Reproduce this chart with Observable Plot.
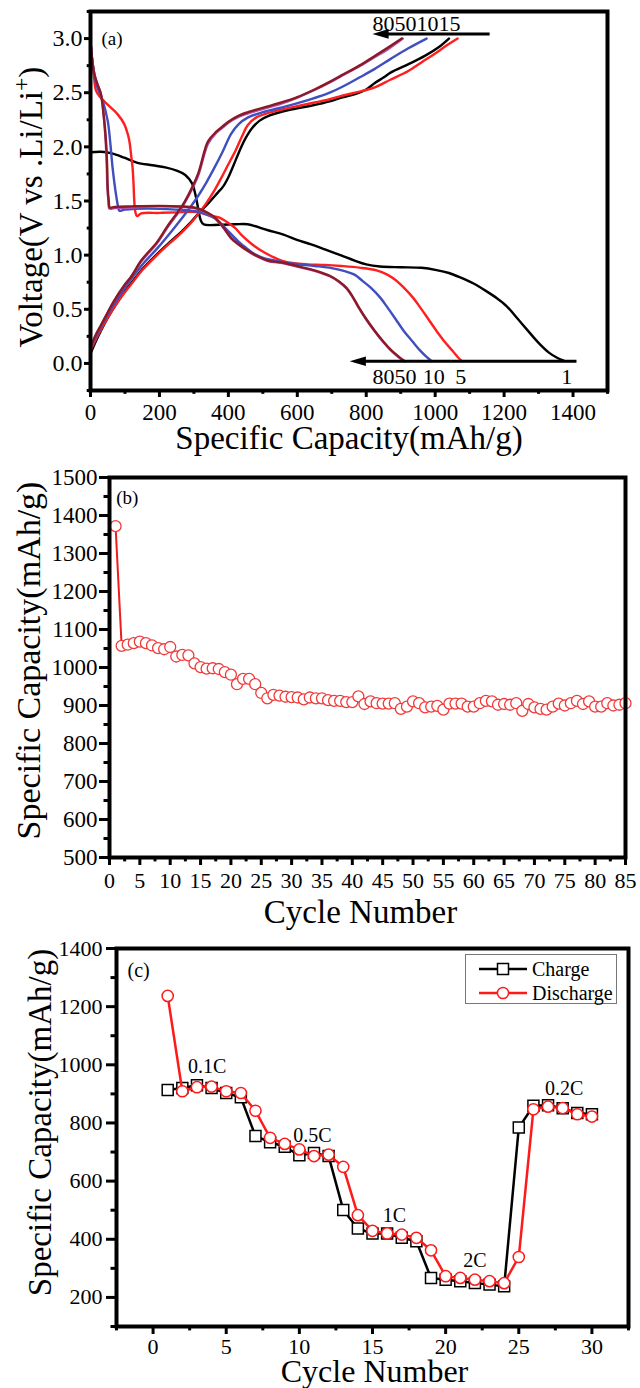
<!DOCTYPE html>
<html><head><meta charset="utf-8">
<script src="https://cdn.jsdelivr.net/npm/d3@7"></script>
<script src="https://cdn.jsdelivr.net/npm/@observablehq/plot@0.6"></script>
<style>
body{margin:0;background:#fff;}
#wrap{position:relative;width:640px;height:1388px;font-family:"Liberation Serif","Times New Roman",serif;color:#000;}
#wrap svg{display:block;}
.legend{position:absolute;left:465px;top:954px;width:152px;height:50px;border:1.3px solid #777;background:#fff;font-size:20px;line-height:24px;padding-top:2px;box-sizing:border-box;}
.legend div{display:flex;align-items:center;height:24px;}
.legend svg{margin-left:13px;margin-right:5px;}
</style></head><body><div id="wrap"></div>
<script>
const FONT = "'Liberation Serif', 'Times New Roman', serif";

// ---------- Panel (a): voltage profiles [capacity mAh/g, voltage V] ----------
const cyc1Discharge = [[0,1.95],[30,1.955],[62,1.94],[98,1.90],[134,1.855],[180,1.83],[217,1.81],[250,1.78],[275,1.74],[295,1.66],[305,1.55],[313,1.42],[320,1.32],[328,1.285],[372,1.28],[420,1.285],[456,1.285],[515,1.23],[560,1.19],[599,1.14],[640,1.10],[682,1.05],[725,1.00],[766,0.95],[800,0.915],[840,0.895],[900,0.888],[960,0.883],[1004,0.862],[1040,0.835],[1076,0.79],[1110,0.74],[1147,0.67],[1180,0.60],[1207,0.53],[1240,0.41],[1267,0.31],[1300,0.19],[1330,0.10],[1355,0.05],[1373,0.025]];
const cyc1Charge = [[0,0.09],[15,0.2],[30,0.30],[50,0.42],[69,0.52],[98,0.66],[118,0.74],[150,0.87],[193,1.01],[230,1.12],[265,1.22],[290,1.30],[312,1.38],[330,1.44],[348,1.50],[370,1.58],[384,1.63],[400,1.72],[415,1.83],[432,1.96],[450,2.08],[468,2.17],[490,2.24],[520,2.29],[575,2.34],[640,2.38],[694,2.42],[728,2.455],[770,2.49],[800,2.53],[825,2.59],[850,2.64],[873,2.69],[920,2.76],[970,2.84],[1010,2.92],[1040,3.0]];
const cyc5Discharge = [[0,2.97],[5,2.8],[10,2.65],[16,2.52],[28,2.46],[40,2.42],[60,2.36],[79,2.30],[98,2.21],[108,2.12],[113,2.05],[118,1.92],[122,1.81],[125,1.65],[127,1.50],[130,1.40],[135,1.36],[147,1.385],[200,1.39],[250,1.395],[292,1.40],[320,1.39],[341,1.37],[370,1.35],[399,1.30],[420,1.25],[437,1.19],[465,1.11],[496,1.04],[525,0.99],[554,0.95],[590,0.925],[631,0.915],[680,0.91],[728,0.90],[780,0.885],[830,0.86],[861,0.82],[885,0.77],[909,0.70],[935,0.61],[956,0.52],[980,0.41],[1004,0.30],[1030,0.19],[1052,0.11],[1068,0.05],[1078,0.02]];
const cyc5Charge = [[0,0.12],[15,0.22],[30,0.31],[50,0.42],[69,0.52],[98,0.65],[118,0.73],[150,0.86],[193,1.00],[230,1.11],[265,1.21],[300,1.33],[336,1.48],[360,1.60],[384,1.74],[405,1.87],[420,1.96],[440,2.10],[456,2.20],[480,2.27],[503,2.30],[550,2.34],[599,2.375],[650,2.41],[694,2.44],[728,2.47],[825,2.55],[870,2.62],[922,2.70],[960,2.78],[999,2.86],[1035,2.94],[1065,3.0]];
const cyc10Discharge = [[0,2.97],[5,2.8],[12,2.65],[20,2.55],[35,2.43],[50,2.24],[57,2.05],[64,1.81],[70,1.65],[74,1.56],[80,1.45],[84,1.41],[100,1.42],[166,1.43],[250,1.42],[292,1.41],[320,1.395],[341,1.37],[360,1.34],[379,1.29],[400,1.22],[428,1.13],[450,1.07],[476,1.01],[505,0.97],[535,0.95],[590,0.92],[651,0.90],[700,0.88],[740,0.85],[766,0.82],[790,0.76],[813,0.70],[840,0.61],[861,0.52],[885,0.41],[909,0.30],[935,0.20],[956,0.12],[975,0.06],[990,0.02]];
const cyc10Charge = [[0,0.14],[15,0.24],[30,0.33],[50,0.45],[69,0.55],[98,0.69],[118,0.78],[150,0.91],[193,1.06],[240,1.24],[289,1.44],[315,1.56],[336,1.67],[360,1.81],[384,1.96],[408,2.12],[430,2.21],[456,2.27],[500,2.32],[575,2.38],[640,2.44],[694,2.50],[728,2.55],[780,2.64],[825,2.72],[870,2.81],[922,2.91],[975,3.0]];
const cyc50Discharge = [[0,2.97],[5,2.8],[12,2.66],[20,2.58],[30,2.49],[38,2.3],[44,2.05],[47,1.85],[49,1.62],[52,1.50],[55,1.43],[70,1.435],[118,1.44],[200,1.45],[263,1.445],[300,1.435],[321,1.415],[340,1.385],[360,1.345],[385,1.255],[408,1.155],[430,1.095],[457,1.035],[485,0.985],[515,0.945],[560,0.925],[612,0.885],[650,0.855],[694,0.805],[720,0.755],[742,0.695],[760,0.615],[778,0.515],[800,0.405],[825,0.295],[850,0.195],[873,0.115],[895,0.055],[910,0.02]];
const cyc50Charge = [[0,0.15],[15,0.26],[30,0.35],[50,0.47],[69,0.58],[98,0.72],[118,0.80],[147,0.94],[193,1.11],[224,1.26],[265,1.44],[283,1.54],[312,1.73],[341,2.03],[365,2.13],[384,2.18],[399,2.22],[432,2.28],[457,2.31],[554,2.40],[600,2.455],[650,2.525],[694,2.595],[728,2.655],[780,2.745],[825,2.83],[862,2.9],[906,3.0]];
const cyc80Discharge = [[0,2.97],[5,2.8],[12,2.66],[20,2.58],[30,2.49],[38,2.3],[45,2.05],[48,1.85],[50,1.62],[53,1.50],[56,1.44],[70,1.445],[118,1.45],[200,1.455],[263,1.45],[300,1.44],[321,1.42],[340,1.39],[360,1.35],[385,1.26],[408,1.16],[430,1.10],[457,1.04],[485,0.99],[515,0.95],[560,0.93],[612,0.89],[650,0.86],[694,0.81],[720,0.76],[742,0.70],[760,0.62],[778,0.52],[800,0.41],[825,0.30],[850,0.20],[873,0.12],[895,0.06],[912,0.02]];
const cyc80Charge = [[0,0.15],[15,0.26],[30,0.35],[50,0.47],[69,0.58],[98,0.72],[118,0.80],[147,0.95],[193,1.12],[224,1.27],[265,1.45],[283,1.55],[312,1.75],[341,2.05],[365,2.14],[384,2.19],[399,2.23],[432,2.29],[457,2.32],[554,2.41],[600,2.46],[650,2.53],[694,2.60],[728,2.66],[780,2.75],[825,2.84],[860,2.91],[903,3.0]];
const curveColors = ["#000000", "#ff1f1f", "#3f4fc0", "#b04fb0", "#8b1a24"];
const curveCycles = ["1", "5", "10", "50", "80"];

const voltTicks = [0, 0.5, 1, 1.5, 2, 2.5, 3];
const voltMinor = [-0.25, 0.25, 0.75, 1.25, 1.75, 2.25, 2.75, 3.25];
const capTicks = [0, 200, 400, 600, 800, 1000, 1200, 1400];
const capMinor = [100, 300, 500, 700, 900, 1100, 1300, 1500];

const aNoteText = ["80501015", "8050", "10", "5", "1"];
const aNoteCap = [818, 818, 964, 1058, 1366];
const aNoteVolt = [3.135, -0.125, -0.125, -0.125, -0.125];
const aArrowFrom = [1158, 1410];
const aArrowTo = [818, 752];
const aArrowVolt = [3.043, 0.02];

// ---------- Panel (b): cycling, capacity per cycle ----------
const bCapacity = [1372,1057,1060,1064,1068,1064,1058,1051,1048,1054,1029,1033,1032,1011,1001,997,998,996,988,981,956,970,970,956,933,919,928,926,923,922,921,916,921,919,919,914,912,912,909,909,924,904,911,906,905,905,906,891,897,911,906,895,897,899,889,905,905,905,897,897,906,912,911,902,904,902,906,886,904,895,891,889,897,905,900,906,912,904,911,897,897,906,900,902,906];
const bCycleTicks = [0,5,10,15,20,25,30,35,40,45,50,55,60,65,70,75,80,85];
const bCycleMinor = [2.5,7.5,12.5,17.5,22.5,27.5,32.5,37.5,42.5,47.5,52.5,57.5,62.5,67.5,72.5,77.5,82.5];
const bCapTicks = [500,600,700,800,900,1000,1100,1200,1300,1400,1500];
const bCapMinor = [550,650,750,850,950,1050,1150,1250,1350,1450];

// ---------- Panel (c): rate capability ----------
const cCharge = [913,920,930,920,903,888,755,734,718,689,697,686,501,437,420,420,405,393,267,261,256,250,244,238,784,859,861,851,834,830];
const cDischarge = [1237,909,923,925,909,903,842,749,728,709,686,691,649,483,429,420,416,405,362,273,267,261,256,249,339,847,856,851,830,822];
const cCycleTicks = [0,5,10,15,20,25,30];
const cCycleMinor = [-2.5,2.5,7.5,12.5,17.5,22.5,27.5,32.5];
const cCapTicks = [200,400,600,800,1000,1200,1400];
const cCapMinor = [100,300,500,700,900,1100,1300];
const rateText = ["0.1C", "0.5C", "1C", "2C", "0.2C"];
const rateCycle = [3.7, 10.9, 16.5, 22.0, 28.1];
const rateCap = [994, 755, 481, 325, 918];

const titleCap = "Specific Capacity(mAh/g)";
const titleVolt = "Voltage(V vs .Li/Li+)";
const titleCycle = "Cycle Number";

const wrap = document.getElementById("wrap");
const baseStyle = {fontFamily: FONT, color: "black", background: "white", overflow: "visible"};
const fmtInt = d3.format("d");

// filled, elongated arrow head pointing left, tip at the anchor point
const arrowHead = {
  draw(ctx, size) {
    const r = Math.sqrt(size / Math.PI);
    ctx.moveTo(0, 0);
    ctx.lineTo(2.7 * r, -0.8 * r);
    ctx.lineTo(2.7 * r, 0.8 * r);
    ctx.closePath();
  }
};

function axes(xT, xM, yT, yM, o) {
  return [
    Plot.axisY({ticks: yT, tickFormat: o.yFmt || fmtInt, tickSize: o.yTick, tickPadding: o.yPad, fontSize: o.yFont, fontFamily: FONT, strokeWidth: 3, label: null}),
    Plot.axisY({ticks: yM, tickFormat: () => "", tickSize: o.yTick * 0.55, strokeWidth: 3, label: null}),
    Plot.axisX({ticks: xT, tickFormat: o.xFmt || fmtInt, tickSize: o.xTick, tickPadding: o.xPad, fontSize: o.xFont, fontFamily: FONT, strokeWidth: 3, label: null}),
    Plot.axisX({ticks: xM, tickFormat: () => "", tickSize: o.xTick * 0.55, strokeWidth: 3, label: null})
  ];
}
function xTitle(t, dx, dy, size) {
  return Plot.text([t], {frameAnchor: "bottom", textAnchor: "middle", lineAnchor: "middle", dx, dy, text: d => d, fontSize: size, fontFamily: FONT});
}
function yTitle(t, dx, dy, size) {
  return Plot.text([t], {frameAnchor: "left", textAnchor: "middle", lineAnchor: "middle", dx, dy, rotate: -90, text: d => d, fontSize: size, fontFamily: FONT});
}

// ----- Panel (a)
const curveSets = [
  [cyc1Discharge, cyc1Charge], [cyc5Discharge, cyc5Charge], [cyc10Discharge, cyc10Charge],
  [cyc50Discharge, cyc50Charge], [cyc80Discharge, cyc80Charge]
];
const lineMarks = [];
curveSets.forEach((pair, i) => {
  pair.forEach(arr => {
    lineMarks.push(Plot.line(arr.map(([x, v]) => ({x, v, cycle: curveCycles[i]})),
      {x: "x", y: "v", stroke: curveColors[i], strokeWidth: 2.4, curve: "catmull-rom"}));
  });
});
const idxNotes = aNoteText.map((_, i) => i);
const idxArrows = aArrowFrom.map((_, i) => i);
const svgA = Plot.plot({
  width: 640, height: 458, marginTop: 11, marginBottom: 68, marginLeft: 90, marginRight: 33,
  style: baseStyle,
  x: {domain: [0, 1500], label: null},
  y: {domain: [-0.25, 3.25], label: null},
  marks: [
    ...axes(capTicks, capMinor, voltTicks, voltMinor, {yFmt: d3.format(".1f"), yTick: 6, yPad: 2, yFont: 24, xTick: 7, xPad: 6, xFont: 23}),
    ...lineMarks,
    Plot.link(idxArrows, {x1: i => aArrowFrom[i], x2: i => aArrowTo[i] + 20, y1: i => aArrowVolt[i], y2: i => aArrowVolt[i], stroke: "black", strokeWidth: 3}),
    Plot.dot(idxArrows, {x: i => aArrowTo[i], y: i => aArrowVolt[i], symbol: arrowHead, r: 6, fill: "black", stroke: "none"}),
    Plot.text(idxNotes, {x: i => aNoteCap[i], y: i => aNoteVolt[i], text: i => aNoteText[i], textAnchor: "start", fontSize: 22, fontFamily: FONT}),
    Plot.text(["(a)"], {x: [32], y: [3.0], text: d => d, textAnchor: "start", fontSize: 19, fontFamily: FONT}),
    xTitle(titleCap, 0, 48, 33),
    yTitle(titleVolt, -59, 6, 33),
    Plot.frame({stroke: "black", strokeWidth: 4})
  ]
});
wrap.appendChild(svgA);
// superscript "+" in the voltage title
d3.select(svgA).selectAll("text").filter(function () { return this.textContent === titleVolt; }).each(function () {
  const t = d3.select(this);
  t.text(null);
  t.append("tspan").text("Voltage(V vs .Li/Li");
  t.append("tspan").attr("dy", -13).attr("font-size", "0.72em").text("+");
  t.append("tspan").attr("dy", 13).text(")");
});

// ----- Panel (b)
const bData = bCapacity.map((cap, i) => ({cycle: i + 1, cap}));
const svgB = Plot.plot({
  width: 640, height: 472, marginTop: 19, marginBottom: 73, marginLeft: 109, marginRight: 15,
  style: baseStyle,
  x: {domain: [0, 85], label: null},
  y: {domain: [500, 1500], label: null},
  marks: [
    ...axes(bCycleTicks, bCycleMinor, bCapTicks, bCapMinor, {yTick: 10, yPad: 2, yFont: 23, xTick: 8, xPad: 7, xFont: 22}),
    Plot.line(bData, {x: "cycle", y: "cap", stroke: "#ee1c1c", strokeWidth: 2}),
    Plot.dot(bData, {x: "cycle", y: "cap", r: 5.5, stroke: "#f03a3a", strokeWidth: 1.3, fill: "white"}),
    Plot.text(["(b)"], {x: [1.1], y: [1447], text: d => d, textAnchor: "start", fontSize: 19, fontFamily: FONT}),
    xTitle(titleCycle, -7, 55, 33),
    yTitle(titleCap, -80, -7, 34),
    Plot.frame({stroke: "black", strokeWidth: 4})
  ]
});
wrap.appendChild(svgB);

// ----- Panel (c)
const cChargeData = cCharge.map((cap, i) => ({cycle: i + 1, cap}));
const cDischargeData = cDischarge.map((cap, i) => ({cycle: i + 1, cap}));
const idxRate = rateText.map((_, i) => i);
const svgC = Plot.plot({
  width: 640, height: 458, marginTop: 18, marginBottom: 62, marginLeft: 116, marginRight: 12,
  style: baseStyle,
  x: {domain: [-2.5, 32.5], label: null},
  y: {domain: [100, 1400], label: null},
  marks: [
    ...axes(cCycleTicks, cCycleMinor, cCapTicks, cCapMinor, {yTick: 10, yPad: 4, yFont: 22, xTick: 8, xPad: 4, xFont: 22}),
    Plot.line(cChargeData, {x: "cycle", y: "cap", stroke: "black", strokeWidth: 2.5}),
    Plot.dot(cChargeData, {x: "cycle", y: "cap", symbol: "square", r: 6.2, stroke: "black", strokeWidth: 1.5, fill: "white"}),
    Plot.line(cDischargeData, {x: "cycle", y: "cap", stroke: "#ff1a1a", strokeWidth: 2.5}),
    Plot.dot(cDischargeData, {x: "cycle", y: "cap", r: 5.6, stroke: "#ff1a1a", strokeWidth: 1.5, fill: "white"}),
    Plot.text(idxRate, {x: i => rateCycle[i], y: i => rateCap[i], text: i => rateText[i], fontSize: 20, fontFamily: FONT}),
    Plot.text(["(c)"], {x: [-1.75], y: [1324], text: d => d, textAnchor: "start", fontSize: 20, fontFamily: FONT}),
    xTitle(titleCycle, 2, 45, 32),
    yTitle(titleCap, -76, -15, 33),
    Plot.frame({stroke: "black", strokeWidth: 4})
  ]
});
wrap.appendChild(svgC);

// legend for panel (c)
const legendItems = [
  {label: "Charge", color: "black", shape: "square"},
  {label: "Discharge", color: "#ff1a1a", shape: "circle"}
];
const leg = document.createElement("div");
leg.className = "legend";
legendItems.forEach(it => {
  const row = document.createElement("div");
  const sym = it.shape === "square"
    ? `<rect x="18.5" y="1.5" width="11" height="11" fill="white" stroke="${it.color}" stroke-width="1.5"/>`
    : `<circle cx="24" cy="7" r="5.6" fill="white" stroke="${it.color}" stroke-width="1.5"/>`;
  row.innerHTML = `<svg width="48" height="14"><line x1="0" x2="48" y1="7" y2="7" stroke="${it.color}" stroke-width="2.5"/>${sym}</svg><span>${it.label}</span>`;
  leg.appendChild(row);
});
wrap.appendChild(leg);
</script></body></html>
